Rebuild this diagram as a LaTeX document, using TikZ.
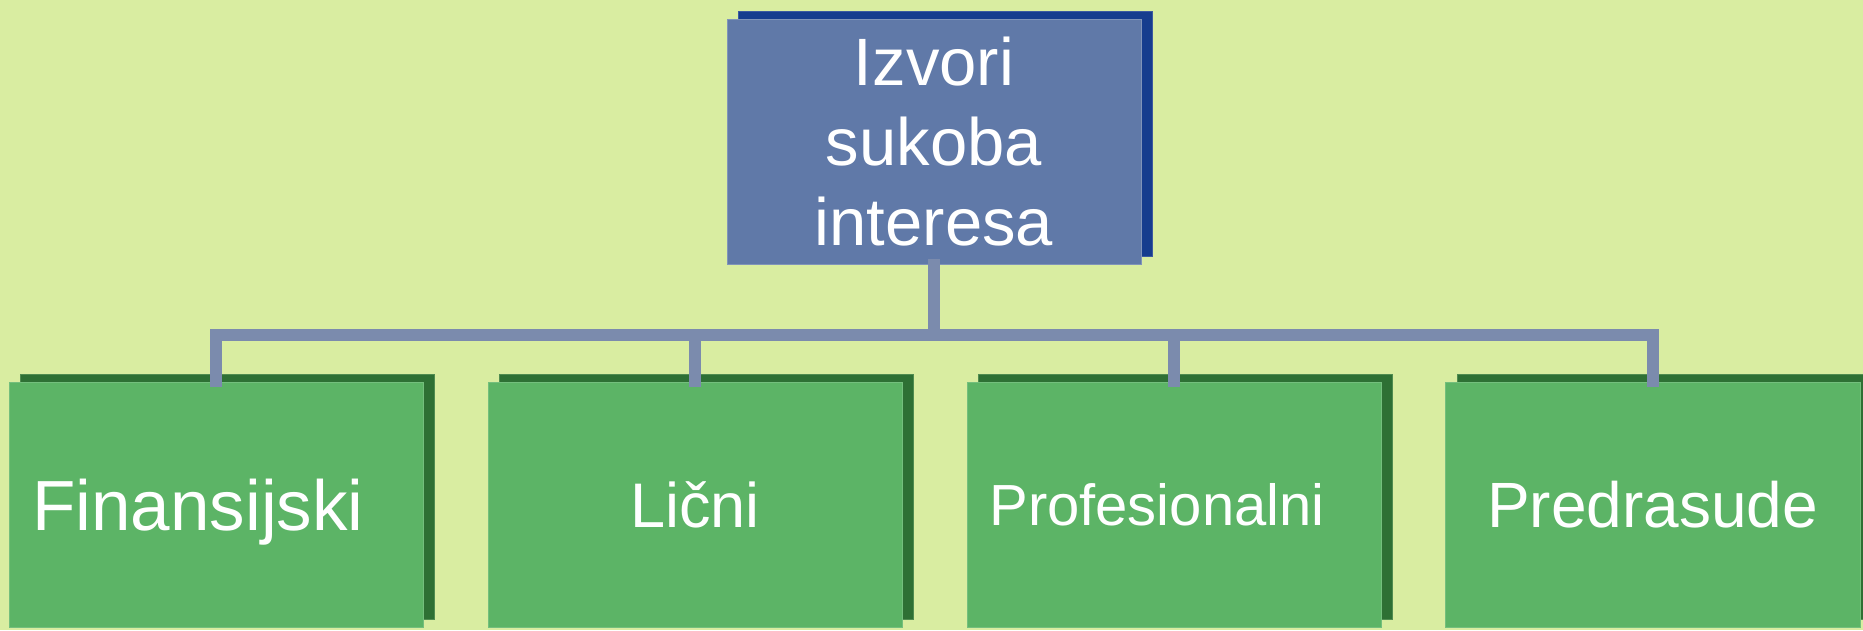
\documentclass[tikz,border=0pt]{standalone}
\usepackage{fontspec}
\setmainfont{Liberation Sans}
\definecolor{bgc}{RGB}{217,237,161}
\definecolor{topfront}{RGB}{96,121,168}
\definecolor{topshadow}{RGB}{22,61,142}
\definecolor{topedge}{RGB}{60,90,160}
\definecolor{grfront}{RGB}{92,180,102}
\definecolor{grshadow}{RGB}{46,112,52}
\definecolor{gredge}{RGB}{80,140,80}
\definecolor{connc}{RGB}{123,139,173}
\tikzset{
  boxbase/.style={rectangle, inner sep=0pt, minimum width=414pt, minimum height=245pt, text=white},
  topbox/.style={boxbase, fill=topfront, draw=topfront!80!white, line width=0.8pt},
  topshad/.style={boxbase, fill=topshadow, draw=topedge, line width=1pt},
  grbox/.style={boxbase, fill=grfront, draw=grfront!85!white, line width=0.8pt, text depth=0pt},
  grshad/.style={boxbase, fill=grshadow, draw=gredge, line width=1pt},
  conn/.style={draw=connc, line width=12pt, line join=miter, line cap=butt}
}
\begin{document}
\begin{tikzpicture}[x=1pt,y=-1pt]
\useasboundingbox[fill=bgc] (0,0) rectangle (1863,630);
% top box
\node[topshad] (ts) at (945,134) {};
\node[topbox, align=center, font=\fontsize{67}{80}\selectfont] (top) at (934,141.5) {Izvori\\sukoba\\interesa};
% bottom shadows
\node[grshad] (s1) at (227,496.5) {};
\node[grshad] (s2) at (706,496.5) {};
\node[grshad] (s3) at (1185,496.5) {};
\node[grshad] (s4) at (1664,496.5) {};
% bottom boxes
\node[grbox, font=\fontsize{71}{85}\selectfont] (c1) at (216,504.5) {Finansijski\hspace*{36pt}};
\node[grbox, font=\fontsize{63}{76}\selectfont] (c2) at (695,504.5) {Lični};
\node[grbox, font=\fontsize{58}{70}\selectfont] (c3) at (1174,504.5) {Profesionalni\hspace*{34pt}};
\node[grbox, font=\fontsize{64}{77}\selectfont, minimum width=415pt] (c4) at (1652.5,504.5) {Predrasude};
% connectors
\coordinate (bar) at (934,335);
\coordinate (topend) at (934,259);
\draw[conn] (topend) -- (bar);
\draw[conn] (bar) -| ([yshift=-5pt]c1.north);
\draw[conn] (bar) -| ([yshift=-5pt]c2.north);
\draw[conn] (bar) -| ([yshift=-5pt]c3.north);
\draw[conn] (bar) -| ([yshift=-5pt]c4.north);
\end{tikzpicture}
\end{document}
